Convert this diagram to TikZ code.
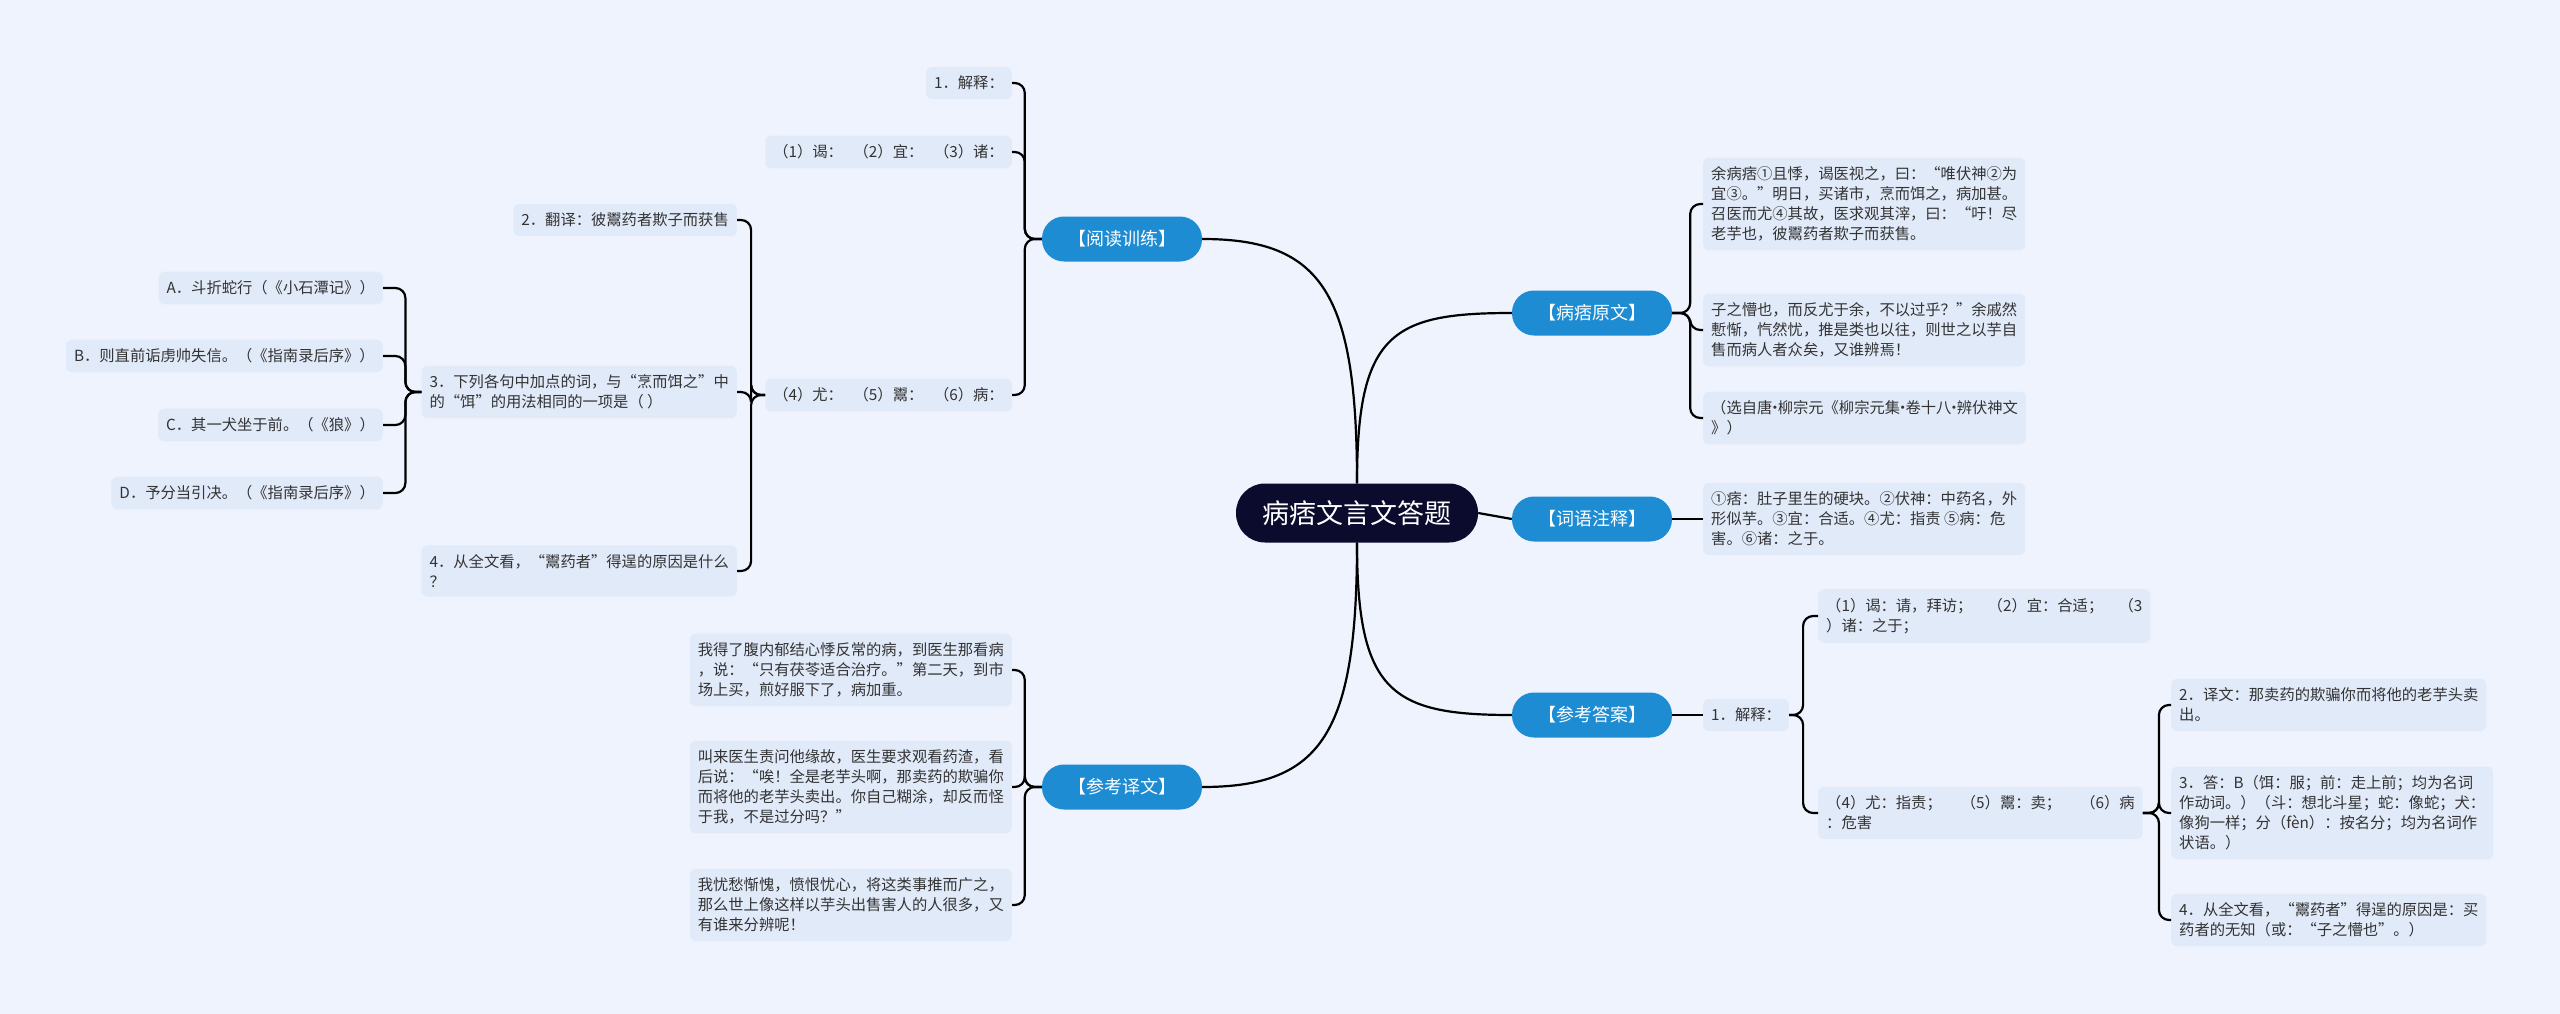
\documentclass[tikz,border=0pt]{standalone}
\usepackage{fontspec}
\newfontfamily\cjk{Noto Sans CJK SC}
\newcommand\mdot{\makebox[0.35em]{·}}
\definecolor{bgcol}{HTML}{EEF3FD}
\definecolor{leafcol}{HTML}{E1EAF9}
\definecolor{topiccol}{HTML}{1E8CD2}
\definecolor{rootcol}{HTML}{0B0B2E}
\definecolor{inkcol}{HTML}{333333}
\begin{document}
\begin{tikzpicture}[x=1pt,y=-1pt,
  root/.style={fill=rootcol,text=white,rounded corners=29,minimum width=242,minimum height=59,font=\cjk\fontsize{27}{32}\selectfont},
  topic/.style={fill=topiccol,text=white,rounded corners=22,minimum width=160,minimum height=45,font=\cjk\fontsize{18}{22}\selectfont},
  leaf/.style={fill=leafcol,text=inkcol,rounded corners=6,align=left,inner xsep=8,inner ysep=9,font=\cjk\fontsize{15.3}{20}\selectfont},
  link/.style={draw=black,line width=2.2,rounded corners=10}]
\fill[bgcol] (0,0) rectangle (2560,1014);
\useasboundingbox (0,0) rectangle (2560,1014);
\node[root] (main) at (1357,513) {病痞文言文答题};
\node[topic] (read) at (1122,239) {【阅读训练】};
\node[topic] (trans) at (1122,787) {【参考译文】};
\node[topic] (orig) at (1592,313) {【病痞原文】};
\node[topic] (notes) at (1592,519) {【词语注释】};
\node[topic] (answer) at (1592,715) {【参考答案】};
\node[leaf,anchor=west] (orig1) at (1703,204) {余病痞①且悸，谒医视之，曰：“唯伏神②为\\宜③。”明日，买诸市，烹而饵之，病加甚。\\召医而尤④其故，医求观其滓，曰：“吁！尽\\老芋也，彼鬻药者欺子而获售。};
\node[leaf,anchor=west] (orig2) at (1703,330) {子之懵也，而反尤于余，不以过乎？”余戚然\\慙惭，忾然忧，推是类也以往，则世之以芋自\\售而病人者众矣，又谁辨焉！};
\node[leaf,anchor=west] (orig3) at (1703,418) {（选自唐\mdot 柳宗元《柳宗元集\mdot 卷十八\mdot 辨伏神文\\》）};
\node[leaf,anchor=west] (notes1) at (1703,519) {①痞：肚子里生的硬块。②伏神：中药名，外\\形似芋。③宜：合适。④尤：指责 ⑤病：危\\害。⑥诸：之于。};
\node[leaf,anchor=west] (ans1) at (1703,715) {1．解释：};
\node[leaf,anchor=west] (ans11) at (1818,616) {（1）谒：请，拜访；　（2）宜：合适；　（3\\）诸：之于；};
\node[leaf,anchor=west] (ans12) at (1818,813) {（4）尤：指责；\hspace{1.25em}（5）鬻：卖；\hspace{1.25em}（6）病\\：危害};
\node[leaf,anchor=west] (ans2) at (2171,705) {2．译文：那卖药的欺骗你而将他的老芋头卖\\出。};
\node[leaf,anchor=west] (ans3) at (2171,813) {3．答：B（饵：服；前：走上前；均为名词\\作动词。）（斗：想北斗星；蛇：像蛇；犬：\\像狗一样；分（fèn）：按名分；均为名词作\\状语。）};
\node[leaf,anchor=west] (ans4) at (2171,920) {4．从全文看，“鬻药者”得逞的原因是：买\\药者的无知（或：“子之懵也”。）};
\node[leaf,anchor=east] (read1) at (1012,83) {1．解释：};
\node[leaf,anchor=east] (read11) at (1012,152) {（1）谒：\hspace{0.7em}（2）宜：\hspace{0.7em}（3）诸：};
\node[leaf,anchor=east] (read12) at (1012,395) {（4）尤：\hspace{0.7em}（5）鬻：\hspace{0.7em}（6）病：};
\node[leaf,anchor=east] (read2) at (737,220) {2．翻译：彼鬻药者欺子而获售};
\node[leaf,anchor=east] (read3) at (737,392) {3．下列各句中加点的词，与“烹而饵之”中\\的“饵”的用法相同的一项是（ ）};
\node[leaf,anchor=east] (read4) at (737,571) {4．从全文看，“鬻药者”得逞的原因是什么\\？};
\node[leaf,anchor=east] (optA) at (383,288) {A．斗折蛇行（《小石潭记》）};
\node[leaf,anchor=east] (optB) at (383,356) {B．则直前诟虏帅失信。（《指南录后序》）};
\node[leaf,anchor=east] (optC) at (383,425) {C．其一犬坐于前。（《狼》）};
\node[leaf,anchor=east] (optD) at (383,493) {D．予分当引决。（《指南录后序》）};
\node[leaf,anchor=east] (trans1) at (1012,670) {我得了腹内郁结心悸反常的病，到医生那看病\\，说：“只有茯苓适合治疗。”第二天，到市\\场上买，煎好服下了，病加重。};
\node[leaf,anchor=east] (trans2) at (1012,787) {叫来医生责问他缘故，医生要求观看药渣，看\\后说：“唉！全是老芋头啊，那卖药的欺骗你\\而将他的老芋头卖出。你自己糊涂，却反而怪\\于我，不是过分吗？”};
\node[leaf,anchor=east] (trans3) at (1012,905) {我忧愁惭愧，愤恨忧心，将这类事推而广之，\\那么世上像这样以芋头出售害人的人很多，又\\有谁来分辨呢！};
\draw[link] (main.east) -- (notes.west);
\draw[link] (main.north) .. controls +(0,-190) and +(120,0) .. (read.east);
\draw[link] (main.north) .. controls +(0,-150) and +(-120,0) .. (orig.west);
\draw[link] (main.south) .. controls +(0,190) and +(120,0) .. (trans.east);
\draw[link] (main.south) .. controls +(0,150) and +(-120,0) .. (answer.west);
\foreach \c in {orig1,orig2,orig3} \draw[link] (orig.east) -- ++(18,0) |- (\c.west);
\draw[link] (notes.east) -- (notes1.west);
\draw[link] (answer.east) -- (ans1.west);
\foreach \c in {ans11,ans12} \draw[link] (ans1.east) -- ++(14,0) |- (\c.west);
\foreach \c in {ans2,ans3,ans4} \draw[link] (ans12.east) -- ++(16,0) |- (\c.west);
\foreach \c in {read1,read11,read12} \draw[link] (read.west) -- ++(-17,0) |- (\c.east);
\foreach \c in {read2,read3,read4} \draw[link] (read12.west) -- ++(-14,0) |- (\c.east);
\foreach \c in {optA,optB,optC,optD} \draw[link] (read3.west) -- ++(-16,0) |- (\c.east);
\foreach \c in {trans1,trans2,trans3} \draw[link] (trans.west) -- ++(-17,0) |- (\c.east);
\end{tikzpicture}
\end{document}
